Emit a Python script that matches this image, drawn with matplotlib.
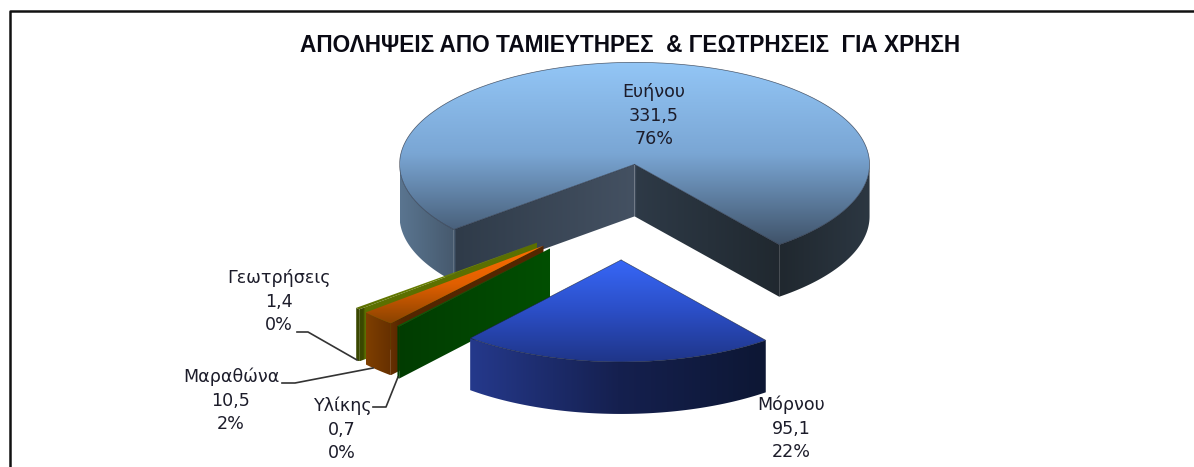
import matplotlib
matplotlib.use("Agg")
import matplotlib.pyplot as plt
import numpy as np
from matplotlib.colors import LinearSegmentedColormap
from matplotlib.patches import Polygon

title = "ΑΠΟΛΗΨΕΙΣ ΑΠΟ ΤΑΜΙΕΥΤΗΡΕΣ  & ΓΕΩΤΡΗΣΕΙΣ  ΓΙΑ ΧΡΗΣΗ"
names = ["Μόρνου", "Υλίκης", "Μαραθώνα", "Γεωτρήσεις", "Ευήνου"]
values = [95.1, 0.7, 10.5, 1.4, 331.5]
percents = [22, 0, 2, 0, 76]

# look of the fake 3d pie, in pixels of the 1194x467 picture
center = np.array([623.0, 211.0])
rx, ry, depth = 235, 102, 52
start_angle = -52
explode = [0.48, 0.48, 0.48, 0.48, 0.46]
draw_order = [4, 3, 2, 1, 0]

top_colors = [
    ["#3767f7", "#2b4ec6", "#1f3588"],
    ["#0a5a0a", "#0a5a0a"],
    ["#ff6e00", "#e05f00", "#8a4300"],
    ["#7a9400", "#5c7000"],
    ["#93c6f6", "#7aa6d4", "#3f5268"],
]
side_colors = [
    ["#25398c", "#15204f", "#0d1734"],
    ["#013c01", "#024f02"],
    [(0, "#7f3f00"), (0.14, "#663000"), (0.2, "#542600"), (1, "#542600")],
    [(0, "#3a4800"), (0.04, "#3a4800"), (0.05, "#5c7000"), (1, "#5c7000")],
    [(0, "#5a7590"), (0.117, "#46596d"), (0.118, "#2f3b49"), (0.5, "#445162"),
     (0.503, "#2e3a47"), (0.81, "#20282f"), (1, "#2c3742")],
]

label_pos = [(791, 405), (342, 406), (231, 377), (279, 278), (654, 92)]
leader_lines = {
    1: [(373, 407), (386, 407), (398, 377)],
    2: [(282, 383), (295, 383), (373, 368)],
    3: [(297, 332), (308, 332), (357, 360)],
}
line_step = 23.7


def point(c, ang, z=0):
    a = np.radians(ang)
    return np.array([c[0] + rx * np.cos(a), c[1] - ry * np.sin(a) + z])


def arc(c, a0, a1, z=0):
    n = max(int(abs(a1 - a0)) * 2, 2)
    return [point(c, a, z) for a in np.linspace(a0, a1, n)]


def gradient(ax, poly, colors, bbox, vertical):
    cmap = LinearSegmentedColormap.from_list("g", colors, N=1024)
    ramp = np.linspace(0, 1, 1024)
    ramp = ramp[:, None] if vertical else ramp[None, :]
    x0, x1, y0, y1 = bbox
    im = ax.imshow(ramp, cmap=cmap, extent=(x0, x1, y1, y0), origin="upper",
                   aspect="auto", interpolation="bilinear", zorder=ax.z)
    im.set_clip_path(Polygon(poly, closed=True, transform=ax.transData))
    ax.z += 1


def lower_ranges(a0, a1):
    # parts of the clockwise arc a0 -> a1 on the viewer side
    out = []
    for lo, hi in [(-180, 0), (-540, -360), (-900, -720)]:
        s = min(a0, hi)
        e = max(a1, lo)
        if s > e:
            out.append((s, e))
    return out


fig = plt.figure(figsize=(11.94, 4.67), dpi=100)
ax = fig.add_axes([0, 0, 1, 1])
ax.z = 2

total = sum(values)
ends = start_angle - np.cumsum(values) / total * 360
starts = np.r_[start_angle, ends[:-1]]

for i in draw_order:
    a0, a1 = starts[i], ends[i]
    mid = np.radians((a0 + a1) / 2)
    c = center + explode[i] * np.array([rx * np.cos(mid), -ry * np.sin(mid)])

    top = [c] + arc(c, a0, a1)
    sides = []
    for s, e in lower_ranges(a0, a1):
        sides.append(arc(c, s, e) + arc(c, e, s, depth))
    if np.cos(np.radians(a0)) < 0:
        sides.append([c, point(c, a0), point(c, a0, depth), c + [0, depth]])
    if np.cos(np.radians(a1)) > 0:
        sides.append([c, point(c, a1), point(c, a1, depth), c + [0, depth]])

    xs = np.array(top)[:, 0]
    ys = np.array(top)[:, 1]
    for poly in sides:
        gradient(ax, poly, side_colors[i], (xs.min(), xs.max(), ys.min(), ys.max() + depth), False)
    gradient(ax, top, top_colors[i], (xs.min(), xs.max(), ys.min(), ys.max()), True)

    # thin dark edge round the big slices
    if values[i] > 50:
        edge = np.array(top + [c])
        ax.plot(edge[:, 0], edge[:, 1], color="#1a2233", lw=0.5, alpha=0.7, zorder=ax.z)
        ax.z += 1

ax.axis("off")

# chart frame, cut off by the picture on the right and at the bottom
ax.plot([9.5, 9.5, 1200], [480, 11, 11], color="#111111", lw=1.8, zorder=50)

ax.text(630, 45, title, ha="center", va="center", fontsize=16.3, fontweight="bold",
        family="Liberation Sans", color="#0a0a14", zorder=60)

for i, (x, y) in enumerate(label_pos):
    lines = [names[i], f"{values[i]}".replace(".", ","), f"{percents[i]}%"]
    for k, line in enumerate(lines):
        ax.text(x, y + k * line_step, line, ha="center", va="center", fontsize=12.6,
                family="DejaVu Sans", color="#1c1c2a", zorder=60)

for i, pts in leader_lines.items():
    pts = np.array(pts)
    ax.plot(pts[:, 0], pts[:, 1], color="#333333", lw=1.2, zorder=55)

ax.set_xlim(0, 1194)
ax.set_ylim(467, 0)
fig.savefig("out.png", dpi=100, facecolor="white")
